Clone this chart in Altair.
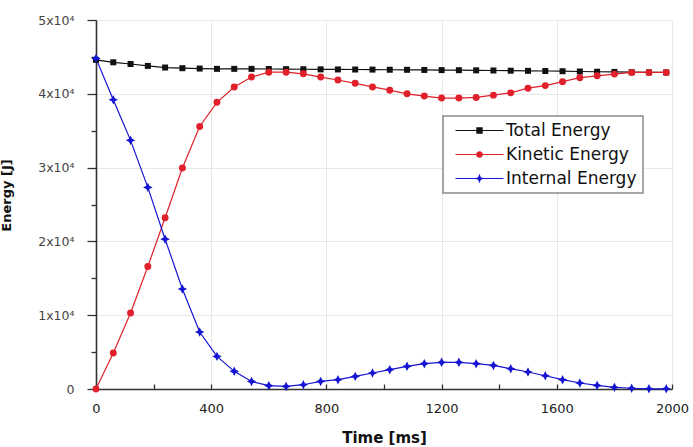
import altair as alt
import pandas as pd

# Sample times [ms]
time_ms = [0, 60, 120, 180, 240, 300, 360, 420, 480, 540, 600, 660, 720, 780, 840,
           900, 960, 1020, 1080, 1140, 1200, 1260, 1320, 1380, 1440, 1500, 1560,
           1620, 1680, 1740, 1800, 1860, 1920, 1980]

# Energy histories [J]
total_energy = [44600, 44270, 44040, 43780, 43560, 43470, 43420, 43380, 43380, 43380,
                43360, 43340, 43330, 43310, 43300, 43290, 43280, 43260, 43250, 43230,
                43210, 43200, 43180, 43160, 43130, 43110, 43090, 43060, 43020, 42990,
                42960, 42930, 42900, 42890]
kinetic_energy = [0, 4880, 10300, 16600, 23200, 29950, 35580, 38850, 40930, 42270,
                  42930, 42930, 42710, 42270, 41870, 41420, 40930, 40490, 40000, 39690,
                  39420, 39420, 39510, 39820, 40130, 40760, 41110, 41640, 42180, 42440,
                  42670, 42890, 42890, 42890]
internal_energy = [44800, 39200, 33690, 27320, 20300, 13550, 7720, 4420, 2390, 1030,
                   450, 350, 580, 1030, 1260, 1710, 2170, 2620, 3070, 3430,
                   3610, 3610, 3430, 3200, 2750, 2300, 1800, 1260, 810, 490,
                   220, 100, 30, 30]

series_names = ["Total Energy", "Kinetic Energy", "Internal Energy"]
series_colors = ["#111111", "#e0202a", "#1414d2"]

x_major = [0, 400, 800, 1200, 1600, 2000]
x_minor = [0, 200, 400, 600, 800, 1000, 1200, 1400, 1600, 1800, 2000]
y_ticks = [0, 5000, 10000, 15000, 20000, 25000, 30000, 35000, 40000, 45000, 50000]

# Plot markers
star_path = "M0,-1L0.33,-0.33L1,0L0.33,0.33L0,1L-0.33,0.33L-1,0L-0.33,-0.33Z"
marker_shapes = ["square", "circle", star_path]
marker_sizes = [36, 48, 90]

# Legend symbols: a short line with the series marker in its middle
seg = "M-0.25,-0.075H5.75V0.075H-0.25Z "
legend_shapes = [
    seg + "M2.35,-0.4H3.15V0.4H2.35Z",
    seg + "M3.17,0A0.42,0.42 0 1,1 2.33,0A0.42,0.42 0 1,1 3.17,0Z",
    seg + "M2.75,-0.6L2.92,-0.17L3.35,0L2.92,0.17L2.75,0.6L2.58,0.17L2.15,0L2.58,-0.17Z",
]

rows = []
for name, values in zip(series_names, [total_energy, kinetic_energy, internal_energy]):
    for t, v in zip(time_ms, values):
        rows.append({"time": t, "energy": v, "series": name})
df = pd.DataFrame(rows)

W, H = 576, 369
FONT = "DejaVu Sans"

x_scale = alt.Scale(domain=[0, 2000], nice=False)
y_scale = alt.Scale(domain=[0, 50000], nice=False)

base = alt.Chart(df)

is_major_y = "datum.value % 10000 == 0"

# Main axes: labels, grid and domain lines
main_x_axis = alt.Axis(
    orient="bottom", values=x_major, format="d", ticks=False, labelFlush=False,
    labelOverlap=False, labelFontSize=13, labelPadding=13, labelColor="#222",
    domainColor="#333", domainWidth=1.6, grid=True, gridColor="#e8e8e8",
    title="Time [ms]", titleFontSize=15, titleFontWeight="bold",
    titleBaseline="alphabetic", titleY=53, titleColor="#111")
main_y_axis = alt.Axis(
    orient="left", values=y_ticks,
    labelExpr=("datum.value % 10000 != 0 ? '' : datum.value == 0 ? '0' : "
               "format(datum.value / 10000, 'd') + 'x10\u2074'"),
    labelFontSize=12.5, labelColor="#444", labelPadding=13, labelOverlap=False,
    tickSize=alt.condition(is_major_y, alt.value(9), alt.value(5)),
    tickColor="#333", tickWidth=1.3,
    domainColor="#333", domainWidth=1.6, grid=True, gridColor="#e8e8e8",
    gridOpacity=alt.condition(is_major_y, alt.value(1), alt.value(0)),
    title="Energy [J]", titleFontSize=13, titleFontWeight="bold",
    titleX=-96, titleY=175, titleBaseline="top", titleAlign="center",
    titleColor="#111")
# Short inward ticks along the time axis
minor_x_axis = alt.Axis(orient="top", offset=-H, values=x_minor, labels=False,
                        domain=False, grid=False, tickSize=5, tickColor="#333",
                        tickWidth=1.3, title=None)

legend_props = dict(
    title=None, orient="none", legendX=347, legendY=96,
    fillColor="white", strokeColor="#8a8a8a", padding=6,
    symbolSize=256, symbolStrokeWidth=0, symbolOpacity=1,
    labelFont=FONT, labelFontSize=17, labelColor="#111", labelOffset=40,
    labelLimit=300, rowPadding=6,
)

# Invisible carrier layer that holds the combined line+marker legend
legend_layer = base.mark_point(filled=True, opacity=0).encode(
    x=alt.X("time:Q", scale=x_scale, axis=None),
    y=alt.Y("energy:Q", scale=y_scale, axis=None),
    color=alt.Color("series:N", scale=alt.Scale(domain=series_names, range=series_colors),
                    legend=alt.Legend(**legend_props)),
    shape=alt.Shape("series:N", scale=alt.Scale(domain=series_names, range=legend_shapes),
                    legend=alt.Legend(**legend_props)),
)

line_layers = []
point_layers = []
for i, name in enumerate(series_names):
    sub = base.transform_filter(alt.datum.series == name)
    line_layers.append(sub.mark_line(strokeWidth=1.2, color=series_colors[i]).encode(
        x=alt.X("time:Q", scale=x_scale, axis=main_x_axis if i == 0 else None),
        y=alt.Y("energy:Q", scale=y_scale, axis=main_y_axis if i == 0 else None),
    ))
    point_layers.append(sub.mark_point(
        shape=marker_shapes[i], size=marker_sizes[i], filled=True, opacity=1,
        strokeWidth=0, color=series_colors[i],
    ).encode(
        x=alt.X("time:Q", scale=x_scale, axis=minor_x_axis if i == 0 else None),
        y=alt.Y("energy:Q", scale=y_scale, axis=None),
    ))

chart = alt.layer(legend_layer, *line_layers, *point_layers).resolve_axis(
    x="independent", y="independent"
).properties(
    width=W, height=H,
    autosize=alt.AutoSizeParams(type="none"),
    padding={"left": 96, "top": 20, "right": 21, "bottom": 58},
    background="white",
).configure_view(stroke=None).configure_axis(
    labelFont=FONT, titleFont=FONT
).configure_legend(strokeWidth=1.5)

chart.save("out.html", embed_options={"renderer": "svg", "actions": False})
